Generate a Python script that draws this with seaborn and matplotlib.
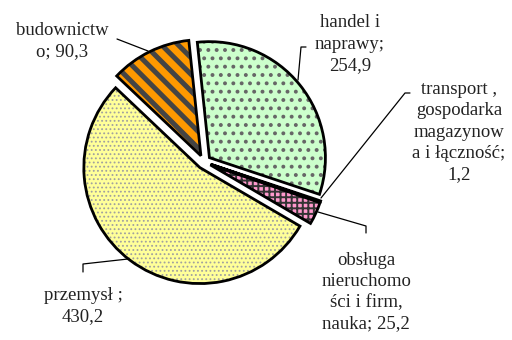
"""
Wykres kołowy - struktura (budownictwo, handel, transport, ...)
"""

import matplotlib
matplotlib.use("Agg")
import matplotlib.pyplot as plt
import seaborn as sns

# dane
labels = ["handel i\nnaprawy;\n254,9",
          "transport ,\ngospodarka\nmagazynow\na i łączność;\n1,2",
          "obsługa\nnieruchomo\nści i firm,\nnauka; 25,2",
          "przemysł ;\n430,2",
          "budownictw\no; 90,3"]
values = [254.9, 1.2, 25.2, 430.2, 90.3]
colors = ["#CCFFCC", "#000000", "#FF99CC", "#FFFF99", "#FF9900"]
hatches = ["..", "", "+++", "....", "\\\\"]
hatch_colors = ["#666666", "#000000", "#333333", "#a0a0a0", "#444444"]
hatch_widths = [1.6, 1.0, 1.4, 0.8, 3.6]

sns.set_theme(style="white")
plt.rcParams["font.family"] = ["Liberation Serif", "DejaVu Serif"]
plt.rcParams["hatch.linewidth"] = 1.6

W, H = 512, 340
R = 116.0          # promień koła w pikselach
cx, cy = 204, 162  # środek koła (piksele, od góry)

fig = plt.figure(figsize=(W / 100, H / 100), dpi=100)
ax = fig.add_axes([0, 0, 1, 1])

explode = [0.06] * len(values)

# warstwa 1: wypełnienie + wzór
wedges, _ = ax.pie(values, explode=explode, colors=colors, startangle=96,
                   counterclock=False, radius=1,
                   wedgeprops=dict(linewidth=0))
for w, h, hc, hw in zip(wedges, hatches, hatch_colors, hatch_widths):
    w.set_hatch(h)
    w.set_edgecolor(hc)
    w.set_linewidth(0)
    if hasattr(w, "set_hatch_linewidth"):
        w.set_hatch_linewidth(hw)

# warstwa 2: obrys
ax.pie(values, explode=explode, colors=["none"] * len(values), startangle=96,
       counterclock=False, radius=1,
       wedgeprops=dict(linewidth=2, edgecolor="black", fill=False))


def px(x, y):
    """piksele -> współrzędne danych"""
    return (x - cx) / R, (cy - y) / R


ax.set_xlim(-cx / R, (W - cx) / R)
ax.set_ylim(-(H - cy) / R, cy / R)
ax.set_aspect("auto")
ax.axis("off")

# etykiety
text_pos = [(350, 44), (459, 132), (366, 292), (83, 306), (62, 41)]
for lab, (x, y) in zip(labels, text_pos):
    tx, ty = px(x, y)
    ax.text(tx, ty, lab, ha="center", va="center", fontsize=13.5,
            linespacing=1.32, color="#222222")

# linie odniesienia
leaders = [
    [(306, 47), (301, 47), (298, 80)],
    [(410, 93), (405, 93), (321, 198)],
    [(318, 212), (366, 226), (366, 233)],
    [(128, 259), (83, 264), (83, 272)],
    [(117, 39), (148, 51)],
]
for pts in leaders:
    xs, ys = zip(*[px(x, y) for x, y in pts])
    ax.plot(xs, ys, color="black", lw=0.9)

fig.savefig("out.png", dpi=100)
plt.close(fig)
